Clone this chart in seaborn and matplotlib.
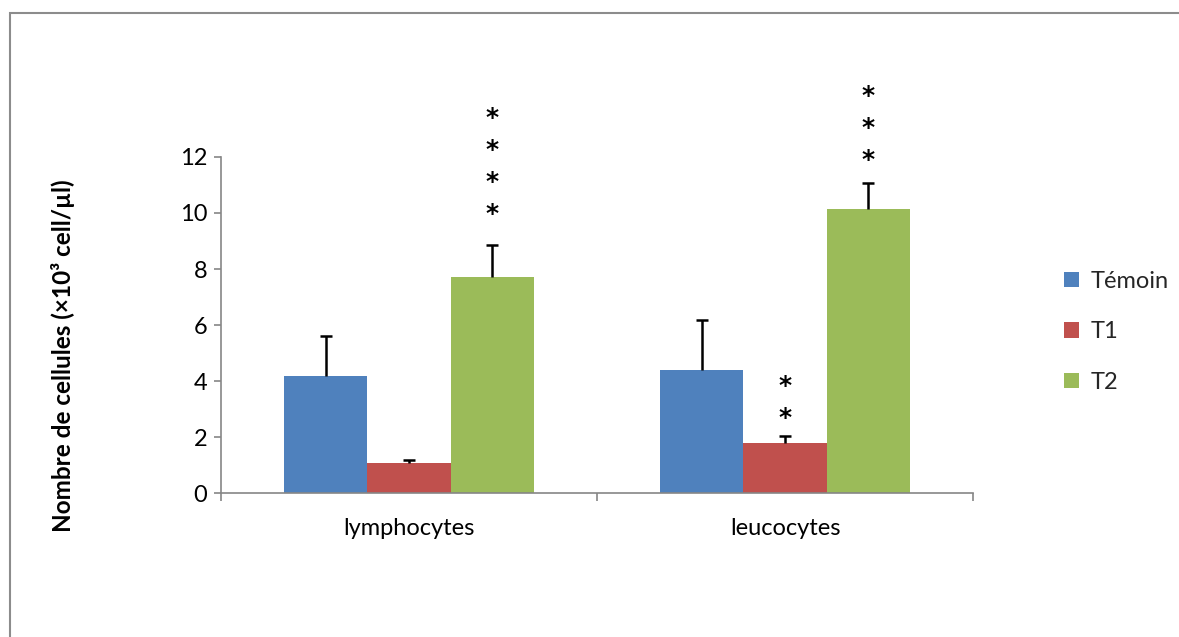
import numpy as np
import pandas as pd
import matplotlib
matplotlib.use("Agg")
import matplotlib.pyplot as plt
from matplotlib.patches import Rectangle, Patch
import seaborn as sns

# Cell counts (x10^3 cell/µl), mean and upper standard deviation
categories = ["lymphocytes", "leucocytes"]
groups = ["Témoin", "T1", "T2"]
temoin = [4.18, 4.39]
t1 = [1.07, 1.79]
t2 = [7.71, 10.14]
temoin_err = [1.42, 1.79]
t1_err = [0.11, 0.25]
t2_err = [1.15, 0.93]

# significance marks per group / category, with the height of the lowest star
sig_t1 = ["", "**"]
sig_t2 = ["****", "***"]
sig_t1_base = [0.0, 2.68]
sig_t2_base = [9.98, 11.89]

colors = ["#4F81BD", "#C0504D", "#9BBB59"]

df = pd.DataFrame({
    "cat": categories * 3,
    "group": [g for g in groups for _ in categories],
    "val": temoin + t1 + t2,
})
errs = {"Témoin": temoin_err, "T1": t1_err, "T2": t2_err}
sigs = {"T1": (sig_t1, sig_t1_base), "T2": (sig_t2, sig_t2_base)}

sns.set_theme(style="white")
plt.rcParams["font.family"] = ["Lato", "DejaVu Sans"]

fig = plt.figure(figsize=(11.79, 6.37), dpi=100)
ax = fig.add_axes([221 / 1179, 144 / 637, 752 / 1179, 336 / 637])

sns.barplot(data=df, x="cat", y="val", hue="group", order=categories,
            hue_order=groups, palette=colors, width=0.665, errorbar=None,
            saturation=1, edgecolor="none", legend=False, ax=ax)

# error bars (upper side only) on top of every bar
for gi, (g, cont) in enumerate(zip(groups, ax.containers)):
    xs = [p.get_x() + p.get_width() / 2 for p in cont.patches]
    hs = [p.get_height() for p in cont.patches]
    e = errs[g]
    _, caps, _ = ax.errorbar(xs, hs, yerr=[np.zeros(len(e)), e], fmt="none",
                             ecolor="black", elinewidth=1.8, capsize=4.5,
                             capthick=1.8, zorder=5)
    # keep only the upper cap
    caps[0].set_visible(False)
    if g in sigs:
        labels, bases = sigs[g]
        for x, lab, base in zip(xs, labels, bases):
            for k in range(len(lab)):
                ax.text(x, base + k * 1.14, "*", ha="center", va="center",
                        fontsize=18, fontweight="bold", color="black",
                        family="DejaVu Sans")

ax.set_ylim(0, 12)
ax.set_xlim(-0.5, 1.5)
ax.set_yticks(np.arange(0, 13, 2))
ax.set_xticks([0, 1])
ax.set_xticklabels(categories)
ax.set_xlabel("")
ax.set_ylabel("")

spine_c = "#868686"
for s in ["top", "right"]:
    ax.spines[s].set_visible(False)
for s in ["left", "bottom"]:
    ax.spines[s].set_color(spine_c)
    ax.spines[s].set_linewidth(1.2)

ax.tick_params(axis="y", which="major", left=True, length=5, width=1.2,
               color=spine_c, labelsize=17, pad=5, labelcolor="black")
ax.tick_params(axis="x", which="major", bottom=False, labelsize=17, pad=12,
               labelcolor="black")
# category boundary ticks below the axis
ax.set_xticks([-0.5, 0.5, 1.5], minor=True)
ax.tick_params(axis="x", which="minor", bottom=True, length=6, width=1.2,
               color=spine_c)

fig.text(63 / 1179, 1 - 356 / 637, "Nombre de cellules (×10³ cell/µl)",
         rotation=90, ha="center", va="center", fontsize=17.5,
         fontweight="bold", color="black")

handles = [Patch(facecolor=c, edgecolor="none") for c in colors]
fig.legend(handles, groups, loc="upper left",
           bbox_to_anchor=(1052 / 1179, 1 - 259 / 637), frameon=False,
           fontsize=17, handlelength=0.65, handleheight=0.65,
           handletextpad=0.5, labelspacing=1.25, borderpad=0)

# outer chart frame
fig.add_artist(Rectangle((10 / 1179, -0.1), 1.2, 1 - 13 / 637 + 0.1,
                         transform=fig.transFigure, fill=False,
                         edgecolor="#8c8c8c", linewidth=1.5))

fig.savefig("out.png", dpi=100, facecolor="white")
